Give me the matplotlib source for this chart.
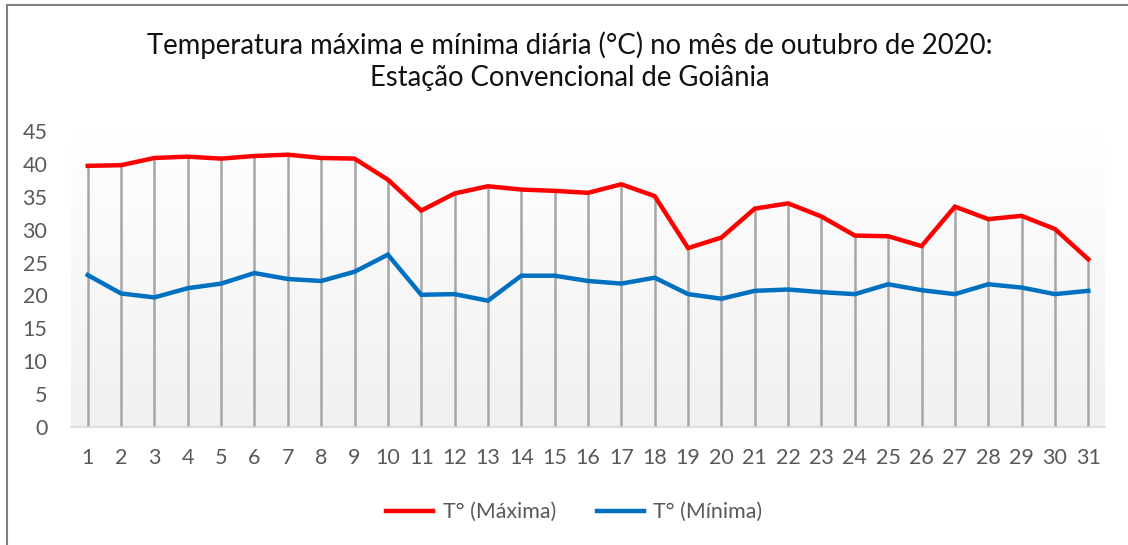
import numpy as np
import matplotlib.pyplot as plt
from matplotlib.lines import Line2D

plt.rcParams['font.family'] = ['Lato', 'DejaVu Sans']

# dias de outubro/2020 e temperaturas diárias (°C)
dias = list(range(1, 32))
t_max = [39.7, 39.8, 40.9, 41.1, 40.8, 41.2, 41.4, 40.9, 40.8, 37.6,
         32.9, 35.5, 36.6, 36.1, 35.9, 35.6, 36.9, 35.1, 27.2, 28.8,
         33.2, 34.0, 32.0, 29.1, 29.0, 27.5, 33.5, 31.6, 32.1, 30.1, 25.5]
t_min = [23.1, 20.3, 19.7, 21.1, 21.8, 23.4, 22.5, 22.2, 23.6, 26.2,
         20.1, 20.2, 19.2, 23.0, 23.0, 22.2, 21.8, 22.7, 20.2, 19.5,
         20.7, 20.9, 20.5, 20.2, 21.7, 20.8, 20.2, 21.7, 21.2, 20.2, 20.7]
y_ticks = list(range(0, 50, 5))

fig = plt.figure(figsize=(11.28, 5.45), dpi=100)
ax = fig.add_axes([71 / 1128, 1 - 427 / 545, (1105 - 71) / 1128, (427 - 131) / 545])

# fundo em degradê da área de plotagem
grad = np.linspace(0, 1, 256).reshape(-1, 1)
cmap = plt.matplotlib.colors.LinearSegmentedColormap.from_list('fundo', ['#f0f0f0', '#ffffff'])
ax.imshow(grad, extent=[0.5, 31.5, 0, 45], origin='lower', aspect='auto', cmap=cmap, zorder=0)

# linhas de queda até o eixo
ax.vlines(dias, 0, t_max, colors='#a6a6a6', linewidth=1.8, zorder=1)

ax.plot(dias, t_max, color='#ff0000', linewidth=3.2, solid_joinstyle='miter', zorder=3)
ax.plot(dias, t_min, color='#0070c0', linewidth=3.2, solid_joinstyle='miter', zorder=3)

ax.set_xlim(0.5, 31.5)
ax.set_ylim(0, 45)
ax.set_xticks(dias)
ax.set_yticks(y_ticks)
ax.tick_params(axis='both', length=0, labelsize=15.5, colors='#595959')
ax.tick_params(axis='x', pad=15)
ax.tick_params(axis='y', pad=17)
for lado in ['top', 'right', 'left']:
    ax.spines[lado].set_visible(False)
ax.spines['bottom'].set_color('#d9d9d9')
ax.spines['bottom'].set_linewidth(1.2)

fig.text(0.505, 0.917, 'Temperatura máxima e mínima diária (°C) no mês de outubro de 2020:',
         ha='center', va='center', fontsize=19.8, color='#111111')
fig.text(0.505, 0.856, 'Estação Convencional de Goiânia',
         ha='center', va='center', fontsize=19.8, color='#111111')

handles = [Line2D([], [], color='#ff0000', linewidth=3.2),
           Line2D([], [], color='#0070c0', linewidth=3.2)]
fig.legend(handles, ['T° (Máxima)', 'T° (Mínima)'], loc='center', bbox_to_anchor=(0.509, 0.06),
           ncol=2, frameon=False, fontsize=15.4, labelcolor='#595959',
           handlelength=2.2, handletextpad=0.45, columnspacing=1.9)

# moldura do gráfico
fig.add_artist(Line2D([7 / 1128, 1], [1 - 5 / 545, 1 - 5 / 545], transform=fig.transFigure,
                      color='#808080', linewidth=1.5))
fig.add_artist(Line2D([7 / 1128, 7 / 1128], [0, 1 - 5 / 545], transform=fig.transFigure,
                      color='#808080', linewidth=1.5))

fig.savefig('out.png', dpi=100)
